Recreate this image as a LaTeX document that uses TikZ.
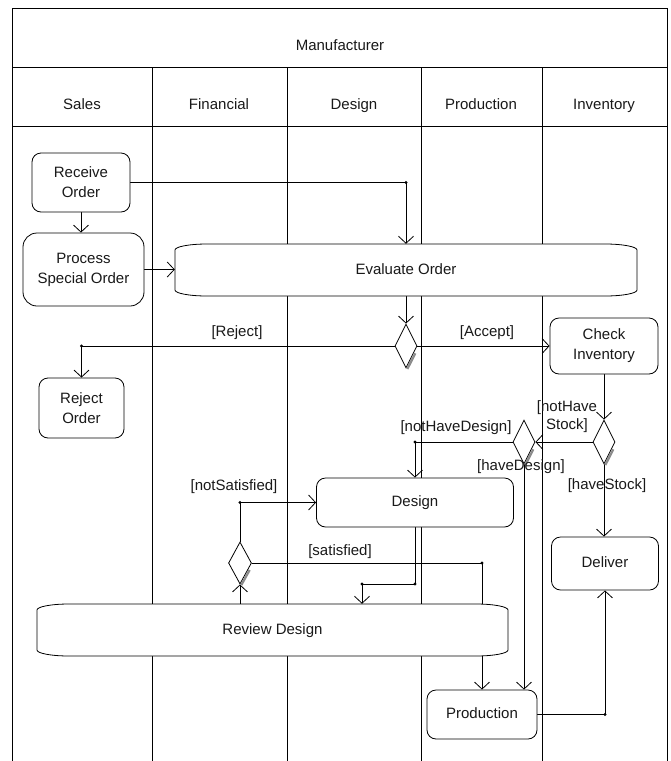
\documentclass[tikz,border=0pt]{standalone}
\usepackage{fontspec}
\setmainfont{Liberation Sans}
\usetikzlibrary{arrows.meta,shapes.geometric,calc}

\pgfdeclarelayer{lanes}
\pgfdeclarelayer{wires}
\pgfsetlayers{lanes,wires,main}

% outline of a wide action state: flat top and bottom, elliptic ends
% #1 centre x, #2 centre y, #3 width, #4 height
\newcommand{\wideactionshape}[4]{%
  \draw[line width=0.8pt, fill=white]
    ({#1-#3/2+32},{#2+#4/2}) -- ({#1+#3/2-32},{#2+#4/2})
    arc[start angle=90, end angle=0, x radius=32, y radius=6]
    -- ({#1+#3/2},{#2-#4/2+6})
    arc[start angle=0, end angle=-90, x radius=32, y radius=6]
    -- ({#1-#3/2+32},{#2-#4/2})
    arc[start angle=270, end angle=180, x radius=32, y radius=6]
    -- ({#1-#3/2},{#2+#4/2-6})
    arc[start angle=180, end angle=90, x radius=32, y radius=6]
    -- cycle;}

\tikzset{
  txt/.style={font=\fontsize{15}{20}\selectfont, text=black!90},
  oneline/.style={text height=11pt, text depth=3pt},
  lanetitle/.style={txt, inner sep=0pt, anchor=base},
  act/.style={txt, draw, line width=0.8pt, fill=white, rounded corners=9pt,
    align=center, inner sep=0pt},
  wideact/.style={txt, align=center, inner sep=0pt},
  decision/.style={draw, shape=diamond, fill=white, line width=0.8pt,
    minimum width=22pt, minimum height=44pt, inner sep=0pt},
  flow/.style={line width=0.8pt, -{Straight Barb[length=7pt,width=15pt]}},
  guard/.style={font=\fontsize{15}{18}\selectfont, text=black!90, inner sep=0pt, align=center},
  dshadow/.style={line width=2.3pt, draw=black!45},
  frame/.style={line width=0.8pt}
}

\begin{document}
\begin{tikzpicture}[x=1pt,y=1pt]
\useasboundingbox (0,0) rectangle (671,-761);

% ---- swimlane frame ----
\begin{pgfonlayer}{lanes}
  \draw[frame] (12,-761) -- (12,-8) -- (667,-8) -- (667,-761);
  \draw[frame] (12,-67) -- (667,-67);
  \draw[frame] (12,-126) -- (667,-126);
  \foreach \x in {152,287,421,542}
    \draw[frame] (\x,-67) -- (\x,-761);
\end{pgfonlayer}

\node[lanetitle] (manu) at (340,-50.5) {Manufacturer};
\node[lanetitle] (sales) at (82,-109.5) {Sales};
\node[lanetitle] (fin) at (219,-109.5) {Financial};
\node[lanetitle] (des) at (354,-109.5) {Design};
\node[lanetitle] (prd) at (481,-109.5) {Production};
\node[lanetitle] (inv) at (604,-109.5) {Inventory};

% ---- activities ----
\node[act, minimum width=98pt, minimum height=59pt] (recv) at (81,-182.5) {Receive\\Order};
\node[act, rounded corners=14pt, minimum width=121pt, minimum height=73pt] (proc) at (83.5,-269.5) {Process\\Special Order};
\wideactionshape{406}{-270}{462}{52}
\node[wideact, oneline, minimum width=462pt, minimum height=52pt] (eval) at (406,-270) {Evaluate Order};
\node[decision] (dec1) at (406,-346) {};
\node[act, minimum width=85pt, minimum height=60pt] (reject) at (81.5,-408) {Reject\\Order};
\node[act, minimum width=108pt, minimum height=56pt] (check) at (604,-346) {Check\\Inventory};
\node[decision] (dec2) at (604,-442) {};
\node[decision] (dec3) at (524,-442) {};
\node[act, oneline, minimum width=197pt, minimum height=49pt] (design) at (415,-502.5) {Design};
\node[decision, minimum width=23pt, minimum height=42pt] (dec4) at (240,-563) {};
\wideactionshape{272.5}{-630}{471}{52}
\node[wideact, oneline, minimum width=471pt, minimum height=52pt] (review) at (272.5,-630) {Review Design};
\node[act, oneline, minimum width=107pt, minimum height=53pt] (deliver) at (605,-563.5) {Deliver};
\node[act, oneline, minimum width=110pt, minimum height=49pt] (prod) at (482,-714.5) {Production};

% decision shadows along the lower right edge
\foreach \d in {dec1,dec2,dec3,dec4}
  \draw[dshadow] ($(\d.east)!0.3!(\d.south)+(1.3,-0.6)$) -- ($(\d.south)+(1.3,-0.6)$);

% ---- bend points ----
\coordinate (b1) at (recv.east -| eval.north);
\coordinate (rj) at (dec1.west -| reject.north);
\coordinate (nd) at (dec3.west -| design.north);
\coordinate (ns) at (dec4.north |- design.west);
\coordinate (st) at (dec4.east -| prod.north);
\coordinate (j1) at (415,-584);
\coordinate (j2) at (362,-584);
\coordinate (pd) at (prod.east -| deliver.south);

% ---- control flow ----
\begin{pgfonlayer}{wires}
  \draw[flow] (recv.east) -- (b1) -- (eval.north);
  \draw[flow] (recv.south) -- (recv.south |- proc.north);
  \draw[flow] (proc.east) -- (proc.east -| eval.west);
  \draw[flow] (eval.south) -- (dec1.north);
  \draw[flow] (dec1.west) -- (rj) -- (reject.north);
  \draw[flow] (dec1.east) -- (check.west);
  \draw[flow] (check.south) -- (dec2.north);
  \draw[flow] (dec2.west) -- (dec3.east);
  \draw[flow] (dec3.west) -- (nd) -- (design.north);
  \draw[flow] (dec3.south) -- (dec3.south |- prod.north);
  \draw[flow] (dec2.south) -- (dec2.south |- deliver.north);
  \draw[flow] (prod.east) -- (pd) -- (deliver.south);
  \draw[flow] (design.south) -- (j1) -- (j2) -- (j2 |- review.north);
  \draw[flow] (dec4.south |- review.north) -- (dec4.south);
  \draw[flow] (dec4.north) -- (ns) -- (design.west);
  \draw[flow] (dec4.east) -- (st) -- (prod.north);
  \foreach \p in {b1,rj,nd,ns,st,j1,j2,pd}
    \fill (\p) circle (1.6pt);
\end{pgfonlayer}

% ---- guards ----
\node[guard] (gReject) at (237,-333) {[Reject]};
\node[guard] (gAccept) at (487,-333) {[Accept]};
\node[guard] (gNoStock) at (567,-417) {[notHave\\Stock]};
\node[guard] (gNoDesign) at (456,-428) {[notHaveDesign]};
\node[guard] (gHaveDesign) at (521,-467) {[haveDesign]};
\node[guard] (gHaveStock) at (607,-486) {[haveStock]};
\node[guard] (gNotSat) at (234,-487) {[notSatisfied]};
\node[guard] (gSat) at (340,-552) {[satisfied]};
\end{tikzpicture}
\end{document}
